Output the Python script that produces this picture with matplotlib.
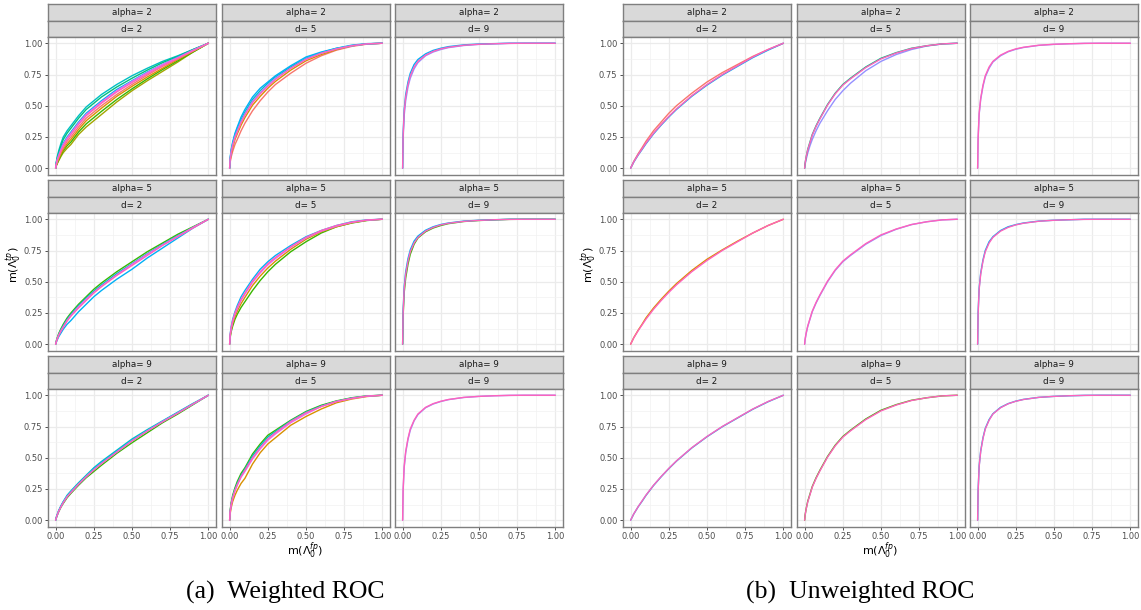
import matplotlib
matplotlib.use("Agg")
import matplotlib.pyplot as plt

# ---- data: ROC curves, tpr at a shared fpr grid ----
fpr = [0, .003, .01, .02, .035, .05, .075, .1, .15, .2, .25, .3, .4, .5, .6, .7, .8, .9, 1.0]
alphas = [2, 5, 9]
ds = [2, 5, 9]
ticks = [0.0, 0.25, 0.5, 0.75, 1.0]
tick_labels = ["0.00", "0.25", "0.50", "0.75", "1.00"]

# ggplot hue palette (10 levels)
hue = ['#F8766D', '#D89000', '#A3A500', '#39B600', '#00BF7D',
       '#00BFC4', '#00B0F6', '#9590FF', '#E76BF3', '#FF62BC']

# weighted ROC, (colour index, tpr)
w_a2_d2 = [(5, [0, .04, .09, .14, .20, .25, .30, .34, .42, .49, .54, .59, .67, .74, .80, .855, .90, .95, 1]),
           (4, [0, .035, .08, .125, .18, .23, .28, .32, .40, .47, .52, .57, .65, .72, .785, .845, .895, .95, 1]),
           (2, [0, .015, .035, .06, .095, .125, .16, .19, .27, .33, .38, .43, .53, .62, .70, .775, .85, .93, 1]),
           (3, [0, .018, .04, .067, .105, .14, .18, .21, .29, .355, .405, .455, .55, .635, .715, .79, .86, .93, 1]),
           (1, [0, .02, .045, .075, .115, .15, .195, .23, .31, .38, .43, .48, .575, .655, .73, .80, .87, .935, 1]),
           (0, [0, .022, .05, .085, .13, .165, .215, .25, .33, .40, .45, .50, .59, .67, .745, .815, .875, .94, 1]),
           (6, [0, .03, .07, .11, .16, .20, .25, .29, .37, .44, .49, .54, .63, .70, .77, .83, .89, .945, 1]),
           (8, [0, .028, .065, .10, .15, .19, .24, .28, .36, .43, .48, .53, .62, .695, .765, .83, .885, .945, 1]),
           (9, [0, .025, .06, .095, .14, .18, .23, .27, .35, .42, .47, .52, .61, .685, .755, .82, .88, .94, 1])]
w_a2_d5 = [(0, [0, .045, .09, .135, .19, .23, .30, .36, .46, .54, .61, .67, .76, .84, .90, .945, .975, .993, 1]),
           (1, [0, .06, .115, .165, .23, .275, .345, .405, .505, .575, .64, .695, .785, .86, .91, .95, .98, .995, 1]),
           (5, [0, .075, .14, .20, .27, .32, .39, .45, .55, .62, .68, .73, .81, .88, .925, .96, .98, .995, 1]),
           (6, [0, .08, .15, .21, .28, .33, .41, .47, .57, .64, .69, .74, .82, .89, .93, .96, .985, .997, 1]),
           (7, [0, .07, .13, .19, .255, .30, .375, .435, .535, .605, .665, .72, .80, .875, .92, .955, .98, .995, 1]),
           (9, [0, .065, .125, .18, .245, .29, .365, .425, .525, .595, .655, .71, .80, .87, .92, .955, .98, .995, 1])]
w_a2_d9 = [(7, [0, .23, .42, .54, .65, .72, .795, .845, .90, .93, .95, .965, .982, .991, .996, .999, 1, 1, 1]),
           (6, [0, .27, .47, .59, .69, .76, .83, .87, .915, .943, .96, .973, .987, .994, .997, 1, 1, 1, 1]),
           (9, [0, .25, .45, .57, .67, .74, .81, .855, .905, .935, .955, .968, .984, .992, .996, .999, 1, 1, 1])]
w_a5_d2 = [(6, [0, .012, .033, .06, .09, .12, .16, .19, .26, .32, .38, .43, .52, .60, .69, .77, .85, .93, 1]),
           (3, [0, .02, .05, .085, .125, .16, .21, .25, .32, .38, .44, .49, .58, .66, .74, .81, .88, .94, 1]),
           (5, [0, .018, .045, .078, .117, .15, .20, .24, .31, .37, .425, .475, .565, .645, .725, .80, .87, .935, 1]),
           (8, [0, .016, .042, .073, .11, .14, .19, .23, .30, .36, .415, .465, .555, .64, .72, .795, .865, .935, 1]),
           (9, [0, .015, .04, .07, .105, .135, .185, .225, .29, .35, .41, .46, .55, .63, .71, .79, .86, .93, 1])]
w_a5_d5 = [(3, [0, .05, .10, .145, .20, .24, .295, .34, .43, .51, .58, .64, .74, .82, .89, .94, .97, .99, 1]),
           (1, [0, .06, .115, .165, .22, .265, .325, .375, .47, .545, .61, .665, .76, .84, .90, .94, .972, .992, 1]),
           (6, [0, .075, .14, .20, .26, .31, .38, .43, .52, .60, .66, .71, .79, .86, .91, .95, .98, .995, 1]),
           (8, [0, .065, .125, .18, .24, .285, .35, .40, .495, .57, .635, .685, .775, .85, .905, .945, .975, .993, 1]),
           (9, [0, .07, .13, .19, .25, .295, .36, .41, .505, .58, .645, .695, .78, .855, .91, .95, .977, .994, 1])]
w_a5_d9 = [(3, [0, .22, .41, .53, .64, .72, .80, .85, .90, .93, .95, .965, .982, .99, .995, .999, 1, 1, 1]),
           (6, [0, .26, .46, .58, .685, .755, .825, .865, .912, .94, .958, .97, .985, .992, .996, 1, 1, 1, 1]),
           (9, [0, .24, .44, .56, .665, .74, .81, .855, .905, .935, .955, .968, .983, .991, .996, .999, 1, 1, 1])]
w_a9_d2 = [(5, [0, .017, .045, .078, .117, .15, .20, .235, .30, .36, .42, .47, .56, .65, .725, .795, .865, .935, 1]),
           (3, [0, .014, .038, .068, .105, .135, .18, .215, .28, .34, .39, .44, .535, .62, .70, .78, .85, .925, 1]),
           (6, [0, .016, .042, .074, .112, .145, .19, .225, .29, .35, .41, .46, .55, .64, .715, .79, .86, .93, 1]),
           (7, [0, .016, .042, .073, .11, .143, .19, .225, .29, .35, .405, .455, .545, .635, .715, .79, .86, .93, 1]),
           (9, [0, .015, .04, .071, .108, .14, .187, .222, .288, .348, .403, .453, .545, .635, .713, .787, .857, .93, 1])]
w_a9_d5 = [(1, [0, .05, .10, .15, .20, .24, .295, .335, .45, .54, .61, .66, .76, .83, .89, .94, .97, .99, 1]),
           (3, [0, .075, .14, .20, .26, .31, .375, .42, .53, .61, .68, .72, .80, .87, .92, .955, .98, .995, 1]),
           (5, [0, .07, .13, .19, .25, .295, .36, .41, .515, .595, .665, .71, .795, .865, .915, .952, .978, .994, 1]),
           (8, [0, .062, .12, .175, .235, .28, .345, .39, .49, .57, .64, .69, .78, .85, .91, .95, .975, .993, 1]),
           (9, [0, .066, .125, .18, .24, .285, .35, .40, .50, .58, .65, .70, .79, .86, .91, .95, .975, .993, 1])]
w_a9_d9 = [(7, [0, .23, .42, .54, .645, .72, .795, .845, .90, .93, .95, .965, .982, .991, .996, .999, 1, 1, 1]),
           (9, [0, .24, .43, .55, .655, .73, .80, .85, .903, .933, .952, .966, .983, .991, .996, .999, 1, 1, 1])]

# unweighted ROC
u_a2_d2 = [(0, [0, .009, .027, .054, .086, .118, .165, .215, .30, .37, .44, .50, .60, .69, .765, .83, .895, .95, 1]),
           (6, [0, .008, .024, .048, .078, .107, .15, .195, .275, .345, .41, .47, .575, .665, .745, .815, .885, .945, 1]),
           (9, [0, .008, .025, .05, .08, .11, .155, .20, .28, .35, .415, .475, .58, .67, .75, .82, .89, .95, 1])]
u_a2_d5 = [(7, [0, .03, .07, .12, .18, .23, .30, .36, .46, .55, .62, .68, .78, .855, .91, .95, .978, .994, 1]),
           (4, [0, .04, .09, .15, .21, .27, .34, .40, .51, .60, .67, .72, .81, .88, .925, .96, .98, .995, 1]),
           (9, [0, .04, .09, .145, .205, .265, .335, .395, .505, .595, .665, .715, .805, .875, .922, .958, .98, .995, 1])]
u_a2_d9 = [(7, [0, .23, .43, .55, .655, .73, .80, .85, .90, .932, .952, .966, .983, .991, .996, .999, 1, 1, 1]),
           (9, [0, .24, .44, .56, .665, .74, .81, .855, .905, .935, .955, .968, .984, .992, .996, .999, 1, 1, 1])]
u_a5_d2 = [(1, [0, .009, .026, .052, .083, .114, .16, .21, .29, .36, .425, .485, .59, .68, .755, .825, .89, .95, 1]),
           (9, [0, .008, .025, .05, .08, .11, .155, .20, .28, .35, .415, .475, .58, .67, .75, .82, .89, .95, 1])]
u_a5_d5 = [(7, [0, .037, .085, .14, .20, .26, .33, .39, .50, .59, .66, .71, .80, .87, .92, .957, .98, .995, 1]),
           (9, [0, .04, .09, .145, .205, .265, .335, .395, .505, .595, .665, .715, .805, .875, .922, .958, .98, .995, 1])]
u_a5_d9 = [(6, [0, .25, .45, .57, .675, .75, .82, .86, .91, .94, .957, .97, .985, .992, .996, 1, 1, 1, 1]),
           (9, [0, .24, .44, .56, .665, .74, .81, .855, .905, .935, .955, .968, .984, .992, .996, .999, 1, 1, 1])]
u_a9_d2 = [(6, [0, .008, .024, .049, .079, .109, .152, .198, .278, .348, .413, .473, .578, .668, .748, .818, .888, .948, 1]),
           (9, [0, .008, .025, .05, .08, .11, .155, .20, .28, .35, .415, .475, .58, .67, .75, .82, .89, .95, 1])]
u_a9_d5 = [(3, [0, .042, .092, .15, .21, .27, .34, .40, .51, .60, .67, .72, .81, .88, .925, .96, .98, .995, 1]),
           (9, [0, .04, .09, .145, .205, .265, .335, .395, .505, .595, .665, .715, .805, .875, .922, .958, .98, .995, 1])]
u_a9_d9 = [(6, [0, .235, .435, .555, .66, .735, .805, .852, .903, .933, .953, .967, .983, .991, .996, .999, 1, 1, 1]),
           (9, [0, .23, .43, .55, .655, .73, .80, .85, .90, .932, .952, .966, .983, .991, .996, .999, 1, 1, 1])]

weighted = [[w_a2_d2, w_a2_d5, w_a2_d9],
            [w_a5_d2, w_a5_d5, w_a5_d9],
            [w_a9_d2, w_a9_d5, w_a9_d9]]
unweighted = [[u_a2_d2, u_a2_d5, u_a2_d9],
              [u_a5_d2, u_a5_d5, u_a5_d9],
              [u_a9_d2, u_a9_d5, u_a9_d9]]

# ---- layout (pixels) ----
W, H = 1141, 610
fig = plt.figure(figsize=(W / 100, H / 100), dpi=100)

col_left = {"a": [48, 222, 395], "b": [623, 797, 970]}
col_w = 168
row_top = [4, 180, 356]
strip_h = 16.5
panel_h = 137.5
border = '#7f7f7f'


def px_axes(x0, y0, w, h):
    return fig.add_axes([x0 / W, 1 - (y0 + h) / H, w / W, h / H])


def strip(x0, y0, label):
    s = px_axes(x0, y0, col_w, strip_h)
    s.set_facecolor('#D9D9D9')
    s.set_xticks([])
    s.set_yticks([])
    for sp in s.spines.values():
        sp.set_color(border)
        sp.set_linewidth(1.0)
    s.text(0.5, 0.48, label, ha='center', va='center', fontsize=6.3,
           color='#1A1A1A', transform=s.transAxes)


def draw_grid(key, data):
    for r, a in enumerate(alphas):
        for c, d in enumerate(ds):
            x0 = col_left[key][c]
            y0 = row_top[r]
            strip(x0, y0, f"alpha= {a}")
            strip(x0, y0 + strip_h, f"d= {d}")
            ax = px_axes(x0, y0 + 2 * strip_h, col_w, panel_h)
            ax.set_xlim(-0.05, 1.05)
            ax.set_ylim(-0.05, 1.05)
            ax.set_xticks(ticks)
            ax.set_yticks(ticks)
            ax.set_xticks([0.125, 0.375, 0.625, 0.875], minor=True)
            ax.set_yticks([0.125, 0.375, 0.625, 0.875], minor=True)
            ax.grid(which='major', color='#EBEBEB', lw=0.9)
            ax.grid(which='minor', color='#F2F2F2', lw=0.5)
            ax.set_axisbelow(True)
            ax.tick_params(which='minor', length=0)
            ax.tick_params(which='major', length=2.5, width=0.6, color='#333333',
                           labelsize=6, labelcolor='#4D4D4D', pad=1.5)
            if c == 0:
                ax.set_yticklabels(tick_labels)
            else:
                ax.tick_params(axis='y', length=0, labelleft=False)
            if r == 2:
                ax.set_xticklabels(tick_labels)
            else:
                ax.tick_params(axis='x', length=0, labelbottom=False)
            for sp in ax.spines.values():
                sp.set_color(border)
                sp.set_linewidth(1.0)
            for ci, tpr in data[r][c]:
                ax.plot(fpr, tpr, color=hue[ci], lw=1.0, solid_capstyle='round',
                        solid_joinstyle='round')


draw_grid("a", weighted)
draw_grid("b", unweighted)

ylab_y = 1 - 265 / H
for xl in (14, 589):
    fig.text(xl / W, ylab_y, r"m($\Lambda_0^{tp}$)", rotation=90, ha='center',
             va='center', fontsize=8)
for xc in (305, 880):
    fig.text(xc / W, 1 - 551 / H, r"m($\Lambda_0^{fp}$)", ha='center', va='center',
             fontsize=8)

fig.text(285 / W, 1 - 592 / H, "(a)  Weighted ROC", ha='center', va='center',
         fontsize=18.5, family='Liberation Serif')
fig.text(860 / W, 1 - 592 / H, "(b)  Unweighted ROC", ha='center', va='center',
         fontsize=18.5, family='Liberation Serif')

fig.savefig("out.png", dpi=100, facecolor='white')
